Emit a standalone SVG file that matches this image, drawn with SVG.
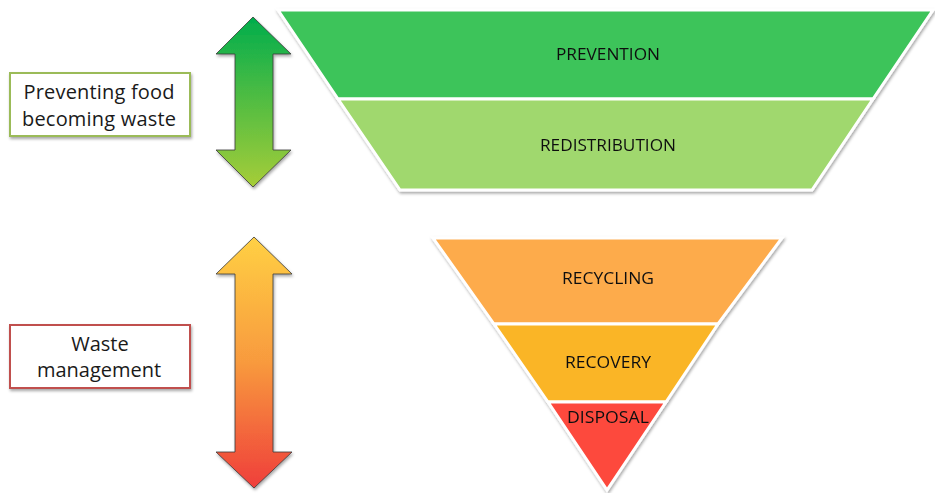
<svg xmlns="http://www.w3.org/2000/svg" width="935" height="493" viewBox="0 0 935 493">
<defs>
<linearGradient id="gGreen" x1="0" y1="0" x2="0" y2="1">
<stop offset="0" stop-color="#00ad4c"/>
<stop offset="1" stop-color="#a6cd38"/>
</linearGradient>
<linearGradient id="gWarm" x1="0" y1="0" x2="0" y2="1">
<stop offset="0" stop-color="#ffd044"/>
<stop offset="0.5" stop-color="#f89a3e"/>
<stop offset="1" stop-color="#ef3e3a"/>
</linearGradient>
<filter id="sh" x="-10%" y="-10%" width="130%" height="130%">
<feDropShadow dx="1" dy="2" stdDeviation="1.5" flood-color="#000" flood-opacity="0.35"/>
</filter>
</defs>
<style>
.lbl{font-family:"Open Sans","Liberation Sans",sans-serif;font-size:20px;fill:#1a1a1a;text-anchor:middle}
.band{font-family:"Open Sans","Liberation Sans",sans-serif;font-size:17px;fill:#111;text-anchor:middle}
.arrow{stroke:#3a3a3a;stroke-width:0.8;filter:url(#sh)}
.box{fill:#fff;stroke-width:2;filter:url(#sh)}
.seg{stroke:#fff;stroke-width:3;stroke-linejoin:miter}
</style>

<g id="arrow-top">
<path class="arrow" fill="url(#gGreen)" d="M253,17 L291,54 L273,54 L273,150 L291,150 L253,187 L216,150 L235,150 L235,54 L216,54 Z"/>
</g>
<g id="arrow-bottom">
<path class="arrow" fill="url(#gWarm)" d="M254,237 L292,274 L273,274 L273,452 L292,452 L254,488 L216,452 L235,452 L235,274 L216,274 Z"/>
</g>

<g id="box-preventing">
<rect class="box" x="10" y="73" width="180" height="63" stroke="#9bbb59"/>
<text class="lbl" x="99" y="99" textLength="151" lengthAdjust="spacing">Preventing food</text>
<text class="lbl" x="99" y="126" textLength="154" lengthAdjust="spacing">becoming waste</text>
</g>
<g id="box-waste">
<rect class="box" x="10" y="325" width="180" height="63" stroke="#c0504d"/>
<text class="lbl" x="100" y="351">Waste</text>
<text class="lbl" x="99" y="377">management</text>
</g>

<g id="funnel-top" filter="url(#sh)">
<g id="prevention">
<polygon class="seg" fill="#3cc45a" points="278,10 933,10 873,99 338,99"/>
<text class="band" x="608" y="60" textLength="104" lengthAdjust="spacingAndGlyphs">PREVENTION</text>
</g>
<g id="redistribution">
<polygon class="seg" fill="#a0d86e" points="338,99 873,99 812,190 400,190"/>
<text class="band" x="608" y="151" textLength="136" lengthAdjust="spacingAndGlyphs">REDISTRIBUTION</text>
</g>
</g>

<g id="funnel-bottom" filter="url(#sh)">
<g id="recycling">
<polygon class="seg" fill="#fdab4c" points="433,238 782,238 718,324 494,324"/>
<text class="band" x="608" y="284" textLength="92" lengthAdjust="spacingAndGlyphs">RECYCLING</text>
</g>
<g id="recovery">
<polygon class="seg" fill="#fab528" points="494,324 718,324 666,402 548,402"/>
<text class="band" x="608" y="368" textLength="86" lengthAdjust="spacingAndGlyphs">RECOVERY</text>
</g>
<g id="disposal">
<polygon class="seg" fill="#fd4a3e" points="548,402 666,402 607,490"/>
<text class="band" x="608" y="423" textLength="82" lengthAdjust="spacingAndGlyphs">DISPOSAL</text>
</g>
</g>
<g id="connectors"/>
</svg>
